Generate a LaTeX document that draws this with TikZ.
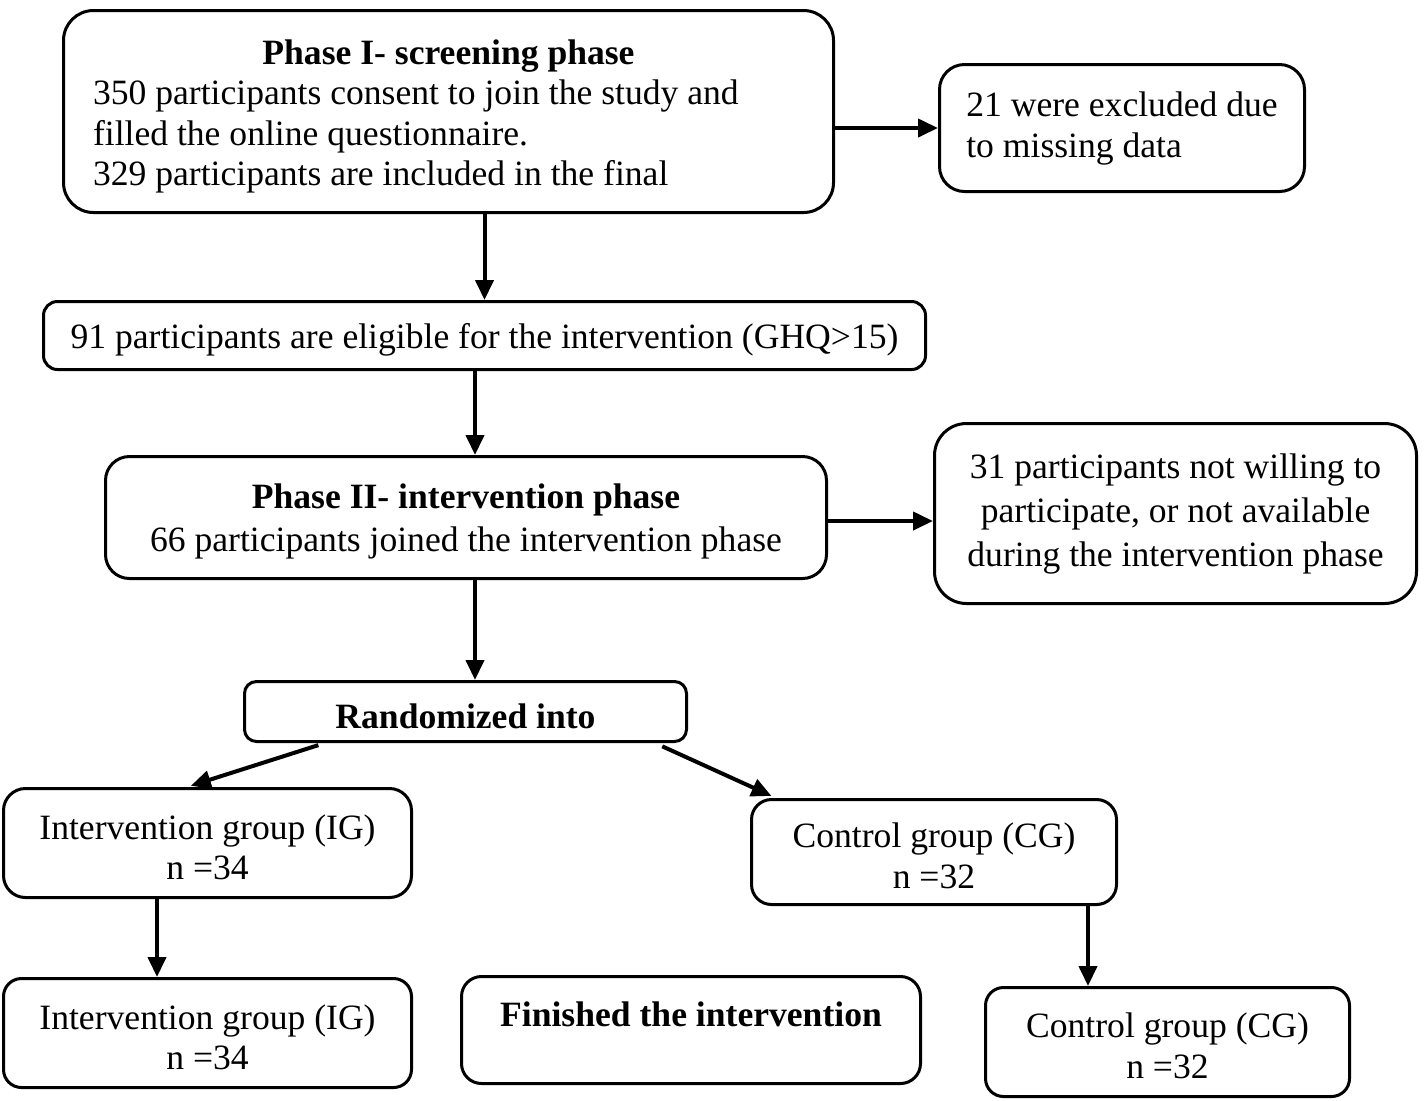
\documentclass[tikz,border=0pt]{standalone}
\usepackage{fontspec}
\setmainfont{Liberation Serif}
\usetikzlibrary{arrows.meta,calc}
\newcommand\tst{\rule{0pt}{16.5pt}}
\begin{document}
\begin{tikzpicture}[x=0.5pt,y=-0.5pt,
  box/.style={draw, line width=1.5pt, inner sep=0pt, text=black,
    font=\fontsize{17.8pt}{20.5pt}\selectfont},
  arr/.style={line width=2pt, -{Triangle[length=10pt,width=9pt]}}]
\useasboundingbox (0,0) rectangle (1424,1100);

\node[box, rounded corners=15pt, minimum width=385pt, minimum height=101pt,
  text width=355.5pt, align=left, font=\fontsize{17.8pt}{20.25pt}\selectfont]
  (p1) at (448.5,111.5)
  {\spaceskip=0pt\xspaceskip=0pt{\centering\bfseries\rule{0pt}{17.5pt}Phase I- screening phase\par}350 participants consent to join the study and\\filled the online questionnaire.\\329 participants are included in the final};

\node[box, rounded corners=12.5pt, minimum width=182.5pt, minimum height=63.5pt, align=left]
  (ex) at (1122,128) {21 were excluded due\\to missing data};

\node[box, rounded corners=7pt, minimum width=441pt, minimum height=34pt]
  (ghq) at (484.5,335.5) {\rule{0pt}{17pt}91 participants are eligible for the intervention (GHQ>15)};

\node[box, rounded corners=12pt, minimum width=360.5pt, minimum height=61pt, align=center,
  font=\fontsize{17.8pt}{21.5pt}\selectfont]
  (p2) at (466,517.5) {\tst\textbf{Phase II- intervention phase}\\66 participants joined the intervention phase};

\node[box, rounded corners=16pt, minimum width=241pt, minimum height=90pt, align=center,
  font=\fontsize{17.8pt}{22pt}\selectfont]
  (r31) at (1175.5,513.5) {31 participants not willing to\\participate, or not available\\during the intervention phase};

\node[box, rounded corners=6pt, minimum width=221pt, minimum height=30pt]
  (rand) at (465.5,711.5) {\rule{0pt}{17pt}\textbf{Randomized into}};

\node[box, rounded corners=11pt, minimum width=204pt, minimum height=54.5pt, align=center,
  font=\fontsize{17.8pt}{20pt}\selectfont]
  (ig1) at (207.5,843) {\tst Intervention group (IG)\\n =34};

\node[box, rounded corners=10pt, minimum width=182.5pt, minimum height=52.5pt, align=center]
  (cg1) at (934,852) {\tst Control group (CG)\\n =32};

\node[box, rounded corners=9pt, minimum width=204pt, minimum height=54.5pt, align=center,
  font=\fontsize{17.8pt}{20pt}\selectfont]
  (ig2) at (207.5,1033) {\tst Intervention group (IG)\\n =34};

\node[box, rounded corners=10pt, minimum width=229.5pt, minimum height=53.5pt, align=center]
  (fin) at (691,1030) {\tst\textbf{Finished the intervention}\\\mbox{}};

\node[box, rounded corners=9pt, minimum width=182pt, minimum height=54.5pt, align=center]
  (cg2) at (1167.5,1042) {\tst Control group (CG)\\n =32};

\draw[arr] (ex.west -| p1.east) -- (ex.west);
\draw[arr] (ghq.north |- p1.south) -- (ghq.north);
\draw[arr] ([xshift=4.5pt]p2.north |- ghq.south) -- ([xshift=4.5pt]p2.north);
\draw[arr] ([yshift=-1.75pt]p2.east) -- ([yshift=-1.75pt]p2.east -| r31.west);
\draw[arr] ([xshift=4.5pt]p2.south) -- ([xshift=4.5pt]p2.south |- rand.north);
\draw[arr, shorten <=3.5pt, shorten >=2pt] ([xshift=41pt]rand.south west) -- ([xshift=92.5pt]ig1.north west);
\draw[arr, shorten <=4pt, shorten >=2.5pt] ([xshift=-16.5pt]rand.south east) -- ([xshift=13pt]cg1.north west);
\draw[arr] ([xshift=-25.25pt]ig1.south) -- ([xshift=-25.25pt]ig1.south |- ig2.north);
\draw[arr] ([xshift=-39.75pt]cg2.north |- cg1.south) -- ([xshift=-39.75pt]cg2.north);
\end{tikzpicture}
\end{document}
